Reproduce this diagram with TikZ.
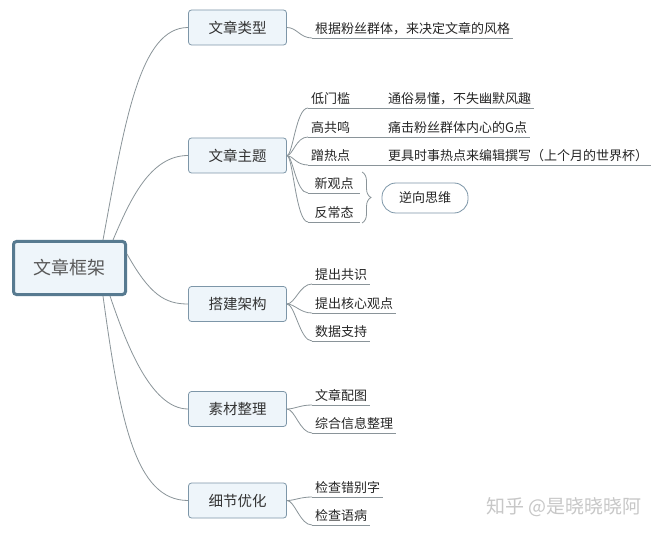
\documentclass[tikz,border=0pt]{standalone}
\usepackage{fontspec}
\newfontfamily\cjk{Noto Sans CJK SC}
\usetikzlibrary{decorations.pathreplacing}
\definecolor{boxfill}{HTML}{EEF5FA}
\definecolor{boxedge}{HTML}{7D96A8}
\definecolor{rootedge}{HTML}{577A90}
\definecolor{linkgray}{HTML}{8A9499}

\begin{document}
\begin{tikzpicture}[x=1pt, y=-1pt, font=\cjk,
  rootbox/.style={draw=rootedge, line width=3pt, fill=boxfill, rounded corners=3pt,
    minimum width=112pt, minimum height=53pt, font=\cjk\fontsize{18}{20}\selectfont, text=black!65},
  topic/.style={draw=boxedge, line width=0.8pt, fill=boxfill, rounded corners=3pt,
    minimum width=98pt, minimum height=35pt, font=\cjk\fontsize{14.5}{16}\selectfont, text=black!80},
  leaf/.style={anchor=south west, inner xsep=3pt, inner ysep=3pt,
    font=\cjk\fontsize{13}{15}\selectfont, text=black!85},
  idea/.style={draw=boxedge, line width=0.8pt, rounded corners=14pt, minimum width=86pt,
    minimum height=30pt, font=\cjk\fontsize{13}{15}\selectfont, text=black!85},
  link/.style={draw=linkgray, line width=0.8pt},
  ul/.style={draw=linkgray, line width=0.8pt}]
  \fill[white] (0,0) rectangle (663,534);
  \useasboundingbox (0,0) rectangle (663,534);

  % root and main topics
  \node[rootbox] (root) at (69.5,268) {文章框架};
  \node[topic] (t1) at (237.5,27.5) {文章类型};
  \node[topic] (t2) at (237.5,155.5) {文章主题};
  \node[topic] (t3) at (237.5,304) {搭建架构};
  \node[topic] (t4) at (237.5,409) {素材整理};
  \node[topic] (t5) at (237.5,500.5) {细节优化};

  \draw[link] ([xshift=-24pt]root.north east) .. controls (125,120) and (140,27.5) .. (t1.west);
  \draw[link] ([xshift=-14pt]root.north east) .. controls (130,200) and (150,155.5) .. (t2.west);
  \draw[link] ([yshift=14pt]root.east) .. controls (150,295) and (165,304) .. (t3.west);
  \draw[link] ([xshift=-17pt]root.south east) .. controls (125,340) and (150,409) .. (t4.west);
  \draw[link] ([xshift=-24pt]root.south east) .. controls (120,420) and (135,500.5) .. (t5.west);

  % 文章类型
  \node[leaf] (a1) at (312,38) {根据粉丝群体，来决定文章的风格};
  \draw[ul] (a1.south west) -- (a1.south east);
  \draw[link] (t1.east) .. controls +(10,0) and +(-12,0) .. (a1.south west);

  % 文章主题
  \node[leaf] (b1) at (308,108) {低门槛};
  \node[leaf] (b2) at (308,137) {高共鸣};
  \node[leaf] (b3) at (308,165) {蹭热点};
  \node[leaf, minimum width=52pt] (b4) at (308,193) {新观点};
  \node[leaf, minimum width=52pt] (b5) at (308,222) {反常态};
  \node[leaf] (b1x) at (385,108) {通俗易懂，不失幽默风趣};
  \node[leaf] (b2x) at (385,137) {痛击粉丝群体内心的G点};
  \node[leaf] (b3x) at (385,165) {更具时事热点来编辑撰写（上个月的世界杯）};
  \foreach \n in {b1,b2,b3,b4,b5,b1x,b2x,b3x}
    \draw[ul] (\n.south west) -- (\n.south east);
  \foreach \n in {b1,b2,b3,b4,b5}
    \draw[link] (t2.east) .. controls +(6,0) and +(-12,0) .. (\n.south west);
  \draw[link] (b1.south east) -- (b1x.south west);
  \draw[link] (b2.south east) -- (b2x.south west);
  \draw[link] (b3.south east) -- (b3x.south west);
  \coordinate (bt) at (362,172);
  \coordinate (bb) at (362,223);
  \draw[link, decorate, decoration={brace, amplitude=9pt}] (bt) -- (bb);
  \node[idea] (b6) at (425,198) {逆向思维};

  % 搭建架构
  \node[leaf] (c1) at (312,284) {提出共识};
  \node[leaf] (c2) at (312,313) {提出核心观点};
  \node[leaf] (c3) at (312,341) {数据支持};
  \foreach \n in {c1,c2,c3} {
    \draw[ul] (\n.south west) -- (\n.south east);
    \draw[link] (t3.east) .. controls +(8,0) and +(-12,0) .. (\n.south west);
  }

  % 素材整理
  \node[leaf] (d1) at (312,405) {文章配图};
  \node[leaf] (d2) at (312,433) {综合信息整理};
  \foreach \n in {d1,d2} {
    \draw[ul] (\n.south west) -- (\n.south east);
    \draw[link] (t4.east) .. controls +(8,0) and +(-12,0) .. (\n.south west);
  }

  % 细节优化
  \node[leaf] (e1) at (312,497) {检查错别字};
  \node[leaf] (e2) at (312,525) {检查语病};
  \foreach \n in {e1,e2} {
    \draw[ul] (\n.south west) -- (\n.south east);
    \draw[link] (t5.east) .. controls +(8,0) and +(-12,0) .. (\n.south west);
  }

  \node[text=black!22, font=\cjk\fontsize{19}{21}\selectfont] (mark) at (564,507) {知乎 @是晓晓晓阿};
\end{tikzpicture}
\end{document}
